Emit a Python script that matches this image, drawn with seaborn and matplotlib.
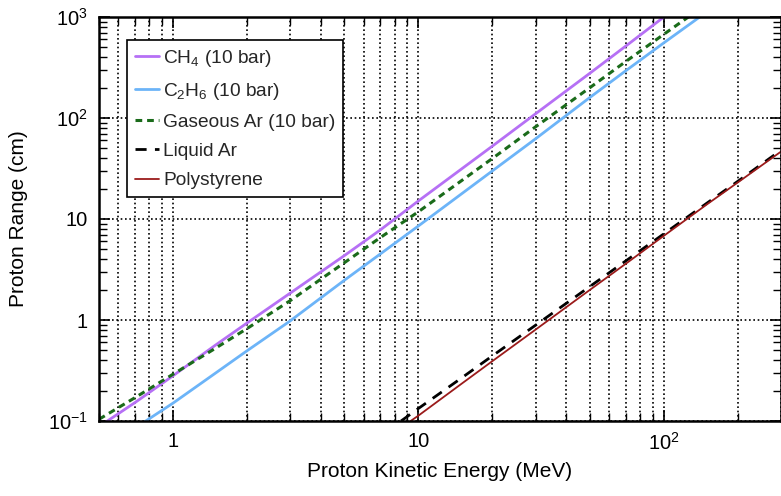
import numpy as np
import pandas as pd
import matplotlib
matplotlib.use("Agg")
import matplotlib.pyplot as plt
import seaborn as sns
from matplotlib.ticker import LogLocator, NullFormatter

# ---------------- data ----------------
ch4_energy = [0.5, 0.7, 1, 1.5, 2, 3, 5, 7, 10, 20, 30, 50, 70, 100, 120]
ch4_range = [0.088, 0.152, 0.28, 0.57, 0.93, 1.84, 4.35, 7.8, 15.1, 52.6, 110, 278, 516, 1000, 1410]

c2h6_energy = [0.7, 1, 1.5, 2, 3, 5, 7, 10, 20, 30, 50, 70, 100, 150]
c2h6_range = [0.085, 0.150, 0.301, 0.494, 0.977, 2.48, 4.51, 8.53, 29.9, 62.2, 160, 294, 555, 1130]

gar_energy = [0.5, 0.7, 1, 1.5, 2, 3, 5, 7, 10, 20, 30, 50, 70, 100, 150]
gar_range = [0.104, 0.170, 0.29, 0.53, 0.82, 1.55, 3.70, 6.55, 11.8, 39.7, 81.7, 200, 363, 675, 1352]

lar_energy = [8.5, 10, 15, 20, 30, 50, 70, 100, 150, 200, 300]
lar_range = [0.1, 0.133, 0.267, 0.441, 0.887, 2.15, 3.85, 7.13, 14.4, 23.6, 48.0]

ps_energy = [9.3, 10, 15, 20, 30, 50, 70, 100, 150, 200, 300]
ps_range = [0.1, 0.113, 0.234, 0.391, 0.802, 1.99, 3.61, 6.82, 14.0, 23.0, 46.5]

series_labels = ["CH$_4$ (10 bar)", "C$_2$H$_6$ (10 bar)", "Gaseous Ar (10 bar)",
                 "Liquid Ar", "Polystyrene"]

x_ticks = [1, 10, 100]
x_ticklabels = ["1", "10", "$10^2$"]
y_ticks = [0.1, 1, 10, 100, 1000]
y_ticklabels = ["$10^{-1}$", "1", "10", "$10^2$", "$10^3$"]

# ---------------- styling ----------------
sns.set_theme(style="ticks")
plt.rcParams["font.family"] = ["Liberation Sans", "DejaVu Sans"]
plt.rcParams["mathtext.fontset"] = "custom"
plt.rcParams["mathtext.rm"] = "Liberation Sans"
plt.rcParams["mathtext.it"] = "Liberation Sans:italic"
plt.rcParams["mathtext.bf"] = "Liberation Sans:bold"

fig = plt.figure(figsize=(7.81, 4.96), dpi=100)
ax = fig.add_axes([99 / 781, 75 / 496, 682 / 781, 404 / 496])

styles = [
    dict(color="#b670f5", lw=2.0, linestyle="-"),
    dict(color="#6cb4f8", lw=2.0, linestyle="-"),
    dict(color="#1a6b1a", lw=2.2, linestyle=(0, (2.2, 1.6))),
    dict(color="black", lw=2.0, linestyle=(0, (4.0, 3.0))),
    dict(color="#9b1b1b", lw=1.3, linestyle="-"),
]
datasets = [(ch4_energy, ch4_range), (c2h6_energy, c2h6_range), (gar_energy, gar_range),
            (lar_energy, lar_range), (ps_energy, ps_range)]

for (e, r), lab, st in zip(datasets, series_labels, styles):
    df = pd.DataFrame({"energy": e, "range": r})
    sns.lineplot(data=df, x="energy", y="range", ax=ax, label=lab, sort=False,
                 estimator=None, **st)

ax.set_xscale("log")
ax.set_yscale("log")
ax.set_xlim(0.5, 300)
ax.set_ylim(0.1, 1000)

ax.set_xticks(x_ticks, x_ticklabels)
ax.set_yticks(y_ticks, y_ticklabels)
ax.xaxis.set_minor_locator(LogLocator(base=10, subs=np.arange(2, 10), numticks=20))
ax.yaxis.set_minor_locator(LogLocator(base=10, subs=np.arange(2, 10), numticks=20))
ax.xaxis.set_minor_formatter(NullFormatter())
ax.yaxis.set_minor_formatter(NullFormatter())

ax.tick_params(which="both", direction="in", top=True, right=True, colors="black",
               labelsize=14.5)
ax.tick_params(which="major", length=8, width=1.2, pad=8)
ax.tick_params(which="minor", length=6, width=1.0)

ax.grid(which="both", axis="x", color="black", linestyle=(0, (1, 1.6)), lw=1.2)
ax.grid(which="major", axis="y", color="black", linestyle=(0, (1, 1.6)), lw=1.2)

for sp in ax.spines.values():
    sp.set_color("black")
    sp.set_linewidth(1.8)
    sp.set_visible(True)

ax.set_xlabel("Proton Kinetic Energy (MeV)", fontsize=15, labelpad=6, color="black")
ax.set_ylabel("Proton Range (cm)", fontsize=15, labelpad=14, color="black")

leg = ax.legend(loc="upper left", bbox_to_anchor=(28 / 682, 1 - 23 / 404), borderaxespad=0,
                fontsize=13.8, frameon=True, fancybox=False, framealpha=1,
                edgecolor="black", handlelength=1.25, handletextpad=0.25,
                labelspacing=0.62, borderpad=0.4)
leg.get_frame().set_linewidth(1.2)

fig.savefig("out.png", dpi=100)
